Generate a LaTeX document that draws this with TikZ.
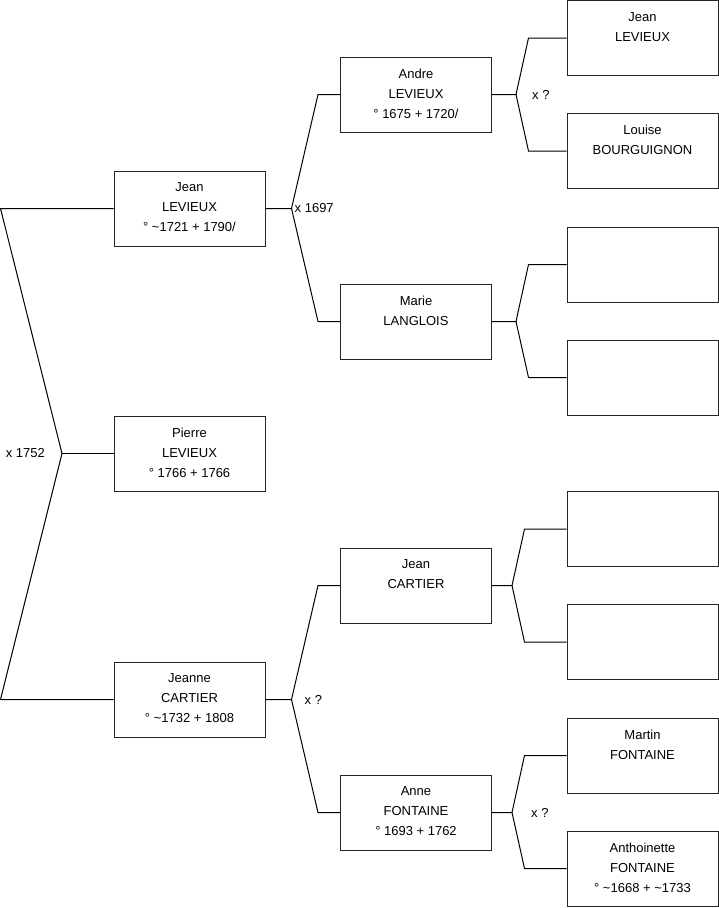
\documentclass[tikz,border=0pt]{standalone}
\usepackage{fontspec}
\setmainfont{Liberation Sans}
\usetikzlibrary{positioning}

\begin{document}
\begin{tikzpicture}[
  x=1pt, y=-1pt,
  person/.style={draw=black!85, line width=1pt, minimum width=151pt, minimum height=75pt, inner sep=0pt},
  ptext/.style={anchor=north, align=center, inner sep=0pt, yshift=-12pt, font=\fontsize{13}{20}\selectfont},
  lnk/.style={draw=black, line width=1pt},
  mar/.style={font=\fontsize{13}{16}\selectfont, inner sep=0pt}
]
\useasboundingbox (0,0) rectangle (719,908);

% generation 1
\node[person, label={[ptext]north:{Jean\\LEVIEUX\\° \textasciitilde1721 + 1790/}}] (jean) at (189.5,208.5) {};
\node[person, label={[ptext]north:{Pierre\\LEVIEUX\\° 1766 + 1766}}] (pierre) at (189.5,453.5) {};
\node[person, label={[ptext]north:{Jeanne\\CARTIER\\° \textasciitilde1732 + 1808}}] (jeanne) at (189.5,699.5) {};

% generation 2
\node[person, label={[ptext]north:{Andre\\LEVIEUX\\° 1675 + 1720/}}] (andre) at (416,94.5) {};
\node[person, label={[ptext]north:{Marie\\LANGLOIS}}] (marie) at (416,321.5) {};
\node[person, label={[ptext]north:{Jean\\CARTIER}}] (jeanc) at (416,585.5) {};
\node[person, label={[ptext]north:{Anne\\FONTAINE\\° 1693 + 1762}}] (anne) at (416,812.5) {};

% generation 3
\node[person, label={[ptext]north:{Jean\\LEVIEUX}}] (gp1) at (642.5,38) {};
\node[person, label={[ptext]north:{Louise\\BOURGUIGNON}}] (gp2) at (642.5,151) {};
\node[person] (gp3) at (642.5,264.5) {};
\node[person] (gp4) at (642.5,377.5) {};
\node[person] (gp5) at (642.5,529) {};
\node[person] (gp6) at (642.5,642) {};
\node[person, label={[ptext]north:{Martin\\FONTAINE}}] (gp7) at (642.5,755.5) {};
\node[person, label={[ptext]north:{Anthoinette\\FONTAINE\\° \textasciitilde1668 + \textasciitilde1733}}] (gp8) at (642.5,868.5) {};

% siblings
\coordinate (ltop) at (0.5,208.5);
\coordinate (lbot) at (0.5,699.5);
\coordinate (lfork) at (62,453.5);
\draw[lnk] (jean.west) -- (ltop) -- (lfork) -- (lbot) -- (jeanne.west);
\draw[lnk] (lfork) -- (pierre.west);
\node[mar, anchor=east] (m0) at ([xshift=-17pt]lfork) {x 1752};

% parents
\coordinate (f1) at ([xshift=26pt]jean.east);
\draw[lnk] (jean.east) -- (f1) -- ([xshift=-22pt]andre.west) -- (andre.west);
\draw[lnk] (f1) -- ([xshift=-22pt]marie.west) -- (marie.west);
\node[mar, anchor=west] (m1) at ([xshift=3pt]f1) {x 1697};

\coordinate (f2) at ([xshift=26pt]jeanne.east);
\draw[lnk] (jeanne.east) -- (f2) -- ([xshift=-22pt]jeanc.west) -- (jeanc.west);
\draw[lnk] (f2) -- ([xshift=-22pt]anne.west) -- (anne.west);
\node[mar, anchor=west] (m2) at ([xshift=13pt]f2) {x ?};

% grandparents
\coordinate (f3) at ([xshift=24pt]andre.east);
\draw[lnk] (andre.east) -- (f3) -- ([xshift=-38pt]gp1.west) -- (gp1.west);
\draw[lnk] (f3) -- ([xshift=-38pt]gp2.west) -- (gp2.west);
\node[mar, anchor=west] (m3) at ([xshift=16pt]f3) {x ?};

\coordinate (f4) at ([xshift=24pt]marie.east);
\draw[lnk] (marie.east) -- (f4) -- ([xshift=-38pt]gp3.west) -- (gp3.west);
\draw[lnk] (f4) -- ([xshift=-38pt]gp4.west) -- (gp4.west);

\coordinate (f5) at ([xshift=20pt]jeanc.east);
\draw[lnk] (jeanc.east) -- (f5) -- ([xshift=-42pt]gp5.west) -- (gp5.west);
\draw[lnk] (f5) -- ([xshift=-42pt]gp6.west) -- (gp6.west);

\coordinate (f6) at ([xshift=20pt]anne.east);
\draw[lnk] (anne.east) -- (f6) -- ([xshift=-42pt]gp7.west) -- (gp7.west);
\draw[lnk] (f6) -- ([xshift=-42pt]gp8.west) -- (gp8.west);
\node[mar, anchor=west] (m4) at ([xshift=19pt]f6) {x ?};
\end{tikzpicture}
\end{document}
